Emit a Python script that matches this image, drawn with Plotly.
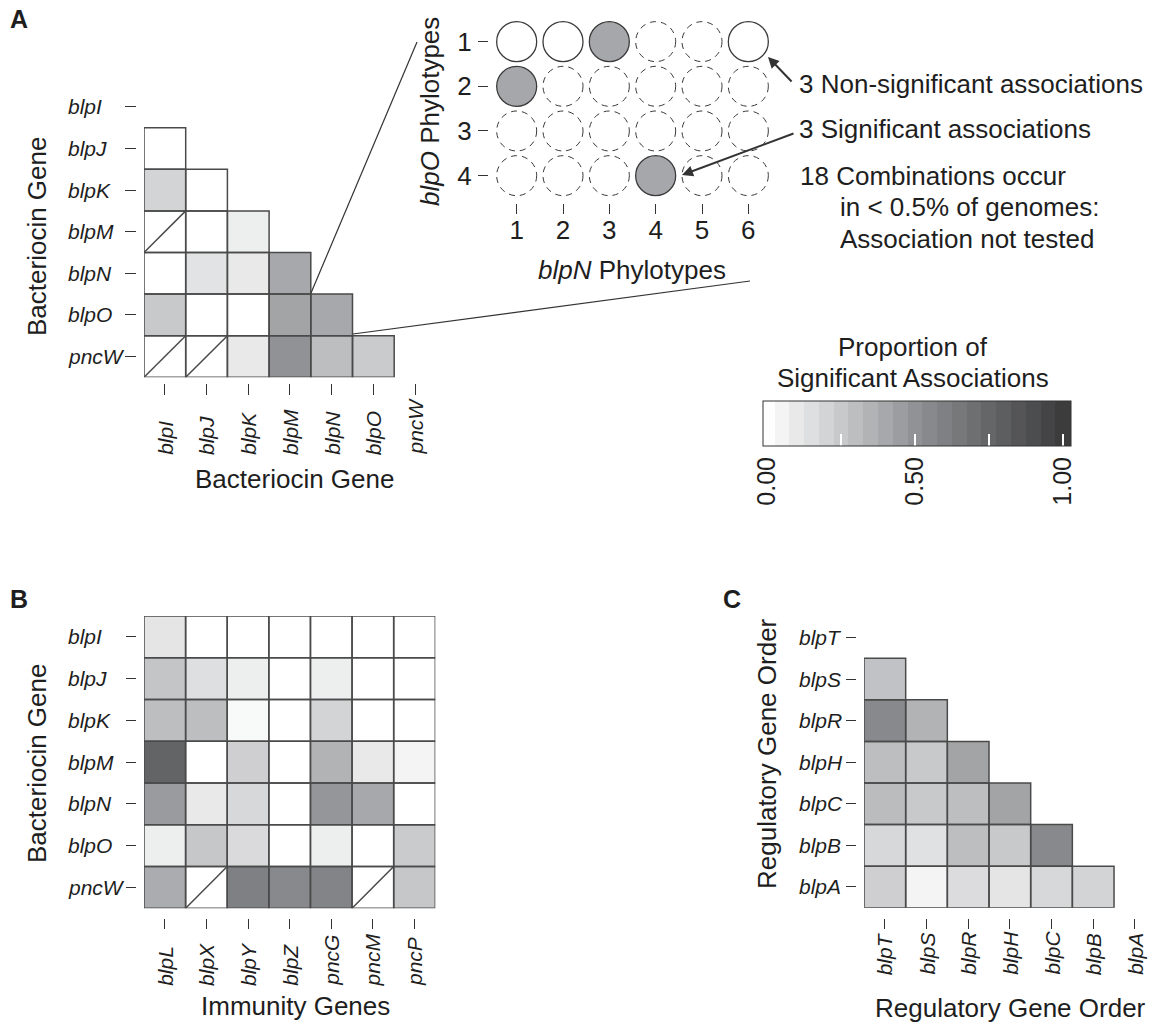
import plotly.graph_objects as go

W, H = 1158, 1024
def px(x): return x / W
def py(y): return 1 - y / H

FONT = "Liberation Sans, Arial, Helvetica, sans-serif"
TXT = "#1e1e1e"
EDGE = "#4a4a4a"

# ---------------- data ----------------
bact_genes = ["blpI", "blpJ", "blpK", "blpM", "blpN", "blpO", "pncW"]
# Panel A: lower triangle (row gene vs column gene), None = not shown / untested
A_values = [
    [None, None, None, None, None, None, None],
    [0.00, None, None, None, None, None, None],
    [0.20, 0.00, None, None, None, None, None],
    [None, 0.00, 0.08, None, None, None, None],
    [0.00, 0.13, 0.10, 0.40, None, None, None],
    [0.25, 0.00, 0.00, 0.42, 0.40, None, None],
    [None, None, 0.10, 0.50, 0.30, 0.24, None],
]
A_untested = [("blpM", "blpI"), ("pncW", "blpI"), ("pncW", "blpJ")]

# Inset: blpO phylotypes (rows) x blpN phylotypes (cols)
inset_rows = [1, 2, 3, 4]
inset_cols = [1, 2, 3, 4, 5, 6]
# S = significant, N = non-significant, U = untested
inset_status = [
    ["N", "N", "S", "U", "U", "N"],
    ["S", "U", "U", "U", "U", "U"],
    ["U", "U", "U", "U", "U", "U"],
    ["U", "U", "U", "S", "U", "U"],
]

# Panel B
imm_genes = ["blpL", "blpX", "blpY", "blpZ", "pncG", "pncM", "pncP"]
B_values = [
    [0.12, 0.00, 0.00, 0.00, 0.00, 0.00, 0.00],
    [0.27, 0.15, 0.08, 0.00, 0.08, 0.00, 0.00],
    [0.30, 0.30, 0.03, 0.00, 0.20, 0.00, 0.00],
    [0.76, 0.00, 0.22, 0.00, 0.35, 0.10, 0.05],
    [0.46, 0.10, 0.18, 0.00, 0.48, 0.40, 0.00],
    [0.08, 0.26, 0.17, 0.00, 0.08, 0.00, 0.24],
    [0.38, None, 0.60, 0.55, 0.58, None, 0.26],
]
B_untested = [("pncW", "blpX"), ("pncW", "pncM")]

# Panel C
reg_genes = ["blpT", "blpS", "blpR", "blpH", "blpC", "blpB", "blpA"]
C_values = [
    [None, None, None, None, None, None, None],
    [0.28, None, None, None, None, None, None],
    [0.55, 0.35, None, None, None, None, None],
    [0.30, 0.25, 0.42, None, None, None, None],
    [0.31, 0.25, 0.30, 0.42, None, None, None],
    [0.18, 0.14, 0.30, 0.25, 0.55, None, None],
    [0.22, 0.05, 0.16, 0.12, 0.18, 0.20, None],
]
C_untested = []

cbar_ticks = [0, 0.25, 0.5, 0.75, 1.0]
cbar_ticktext = ["0.00", "", "0.50", "", "1.00"]

# ---------------- colours ----------------
CMIN, CMAX = -0.014, 1.028
grey_stops = [(0.0, "#ffffff"), (0.25, "#c8c9cb"), (0.5, "#919295"),
              (0.75, "#656668"), (1.0, "#3c3c3d")]

def hex2rgb(h):
    return tuple(int(h[i:i + 2], 16) for i in (1, 3, 5))

def grey_at(v):
    v = min(max(v, 0.0), 1.0)
    for (v0, c0), (v1, c1) in zip(grey_stops[:-1], grey_stops[1:]):
        if v0 <= v <= v1:
            t = (v - v0) / (v1 - v0)
            a, b = hex2rgb(c0), hex2rgb(c1)
            return "rgb(%d,%d,%d)" % tuple(round(a[k] + t * (b[k] - a[k])) for k in range(3))
    return grey_stops[-1][1]

def frac(v):
    return (v - CMIN) / (CMAX - CMIN)

# continuous scale for the cells
colorscale = [[0.0, "#ffffff"]]
for v, c in grey_stops:
    colorscale.append([frac(v), c])
colorscale.append([1.0, "#3c3c3d"])

# binned scale for the legend bar (as drawn in the reference)
bin_edges = [CMIN] + [0.025 + 0.05 * k for k in range(21)] + [CMAX]
bin_edges = sorted(set(min(max(e, CMIN), CMAX) for e in bin_edges))
binned = []
for e0, e1 in zip(bin_edges[:-1], bin_edges[1:]):
    col = grey_at((e0 + e1) / 2)
    binned.append([frac(e0), col])
    binned.append([frac(e1), col])

fig = go.Figure()

def add_heat(values, rows, cols, untested, xa, ya):
    n_r, n_c = len(rows), len(cols)
    fig.add_trace(go.Heatmap(
        z=values, x=list(range(n_c)), y=list(range(n_r)),
        coloraxis="coloraxis", xaxis=xa, yaxis=ya,
        hoverinfo="skip"))
    unt = {(rows.index(r), cols.index(c)) for r, c in untested}
    bx, by = [], []
    for i in range(n_r):
        for j in range(n_c):
            if values[i][j] is None and (i, j) not in unt:
                continue
            bx += [j - 0.5, j + 0.5, j + 0.5, j - 0.5, j - 0.5, None]
            by += [i - 0.5, i - 0.5, i + 0.5, i + 0.5, i - 0.5, None]
            if (i, j) in unt:
                bx += [j - 0.5, j + 0.5, None]
                by += [i + 0.5, i - 0.5, None]
    fig.add_trace(go.Scatter(x=bx, y=by, mode="lines", xaxis=xa, yaxis=ya,
                             line=dict(color=EDGE, width=1.5),
                             hoverinfo="skip", showlegend=False))

add_heat(A_values, bact_genes, bact_genes, A_untested, "x", "y")
add_heat(B_values, bact_genes, imm_genes, B_untested, "x3", "y3")
add_heat(C_values, reg_genes, reg_genes, C_untested, "x4", "y4")

# legend bar carrier (no visible points)
fig.add_trace(go.Scatter(x=[None, None], y=[None, None], mode="markers",
                         xaxis="x", yaxis="y", hoverinfo="skip", showlegend=False,
                         marker=dict(color=[CMIN, CMAX], coloraxis="coloraxis2")))

# inset circles: tested as markers, untested dashed shapes
for status, fill in [("N", "#ffffff"), ("S", "#a6a7aa")]:
    xs, ys = [], []
    for i, r in enumerate(inset_rows):
        for j, c in enumerate(inset_cols):
            if inset_status[i][j] == status:
                xs.append(c); ys.append(r)
    fig.add_trace(go.Scatter(x=xs, y=ys, mode="markers", xaxis="x2", yaxis="y2",
                             marker=dict(size=40, color=fill,
                                         line=dict(color="#3a3a3a", width=1.3)),
                             hoverinfo="skip", showlegend=False))
shapes = []
for i, r in enumerate(inset_rows):
    for j, c in enumerate(inset_cols):
        if inset_status[i][j] == "U":
            shapes.append(dict(type="circle", xref="x2", yref="y2",
                               xsizemode="pixel", ysizemode="pixel",
                               xanchor=c, yanchor=r, x0=-20, x1=20, y0=-20, y1=20,
                               line=dict(color="#3a3a3a", width=1, dash="6px,5px")))

# connecting lines from panel A to inset
shapes.append(dict(type="line", xref="paper", yref="paper",
                   x0=px(311), y0=py(293), x1=px(417), y1=py(42),
                   line=dict(color="#333333", width=1.2)))
shapes.append(dict(type="line", xref="paper", yref="paper",
                   x0=px(353), y0=py(334), x1=px(750), y1=py(281),
                   line=dict(color="#333333", width=1.2)))

tick_common = dict(showgrid=False, zeroline=False, showline=False,
                   ticks="outside", tickcolor="#333333", tickwidth=1.2,
                   anchor="free")

def heat_axes(xdom, ydom, xpos, ypos, ticklen=11):
    xa = dict(domain=[px(xdom[0]), px(xdom[1])], range=[-0.5, 6.5],
              position=py(xpos), tickvals=list(range(7)), ticklen=ticklen,
              showticklabels=False, **tick_common)
    ya = dict(domain=[py(ydom[1]), py(ydom[0])], range=[6.5, -0.5],
              position=px(ypos), tickvals=list(range(7)), ticklen=ticklen,
              showticklabels=False, **tick_common)
    return xa, ya

xa1, ya1 = heat_axes((144, 435.9), (86.1, 377.3), 383, 136)
xa3, ya3 = heat_axes((144, 435.3), (616, 908.3), 918, 136, ticklen=10)
xa4, ya4 = heat_axes((864, 1155.7), (616.7, 907.7), 918, 856, ticklen=10)

xa2 = dict(domain=[px(493.5), px(771.5)], range=[0.5, 6.5], position=py(203),
           tickvals=inset_cols, ticklen=10, showticklabels=True,
           ticklabelstandoff=-6,
           tickfont=dict(size=26, family=FONT, color=TXT), **tick_common)
ya2 = dict(domain=[py(198), py(19.3)], range=[4.5, 0.5], position=px(488),
           tickvals=inset_rows, ticklen=10, showticklabels=True,
           ticklabelstandoff=1,
           tickfont=dict(size=26, family=FONT, color=TXT), **tick_common)

ann = []
def text(x, y, s, size=26, xanchor="center", yanchor="middle", angle=0,
         xref="paper", yref="paper", bold=False):
    ann.append(dict(x=x, y=y, xref=xref, yref=yref, text=s, showarrow=False,
                    xanchor=xanchor, yanchor=yanchor, textangle=angle,
                    font=dict(size=size, family=FONT, color=TXT,
                              weight="bold" if bold else "normal")))

# tick label annotations
def tick_labels(rows, cols, ylab_x, xlab_bottom, xa, ya):
    for i, r in enumerate(rows):
        text(px(ylab_x), i, f"<i>{r}</i>", size=21, xanchor="left", yref=ya)
    for j, c in enumerate(cols):
        text(j, py(xlab_bottom), f"<i>{c}</i>", size=21, yanchor="bottom",
             angle=-90, xref=xa)

tick_labels(bact_genes, bact_genes, 66, 457, "x", "y")
tick_labels(bact_genes, imm_genes, 66, 988, "x3", "y3")
tick_labels(reg_genes, reg_genes, 797, 977, "x4", "y4")

# axis titles
text(px(294), py(479), "Bacteriocin Gene")
text(px(37), py(237), "Bacteriocin Gene", angle=-90)
text(px(295), py(1006), "Immunity Genes")
text(px(37), py(764), "Bacteriocin Gene", angle=-90)
text(px(1010), py(1008), "Regulatory Gene Order")
text(px(767), py(754), "Regulatory Gene Order", angle=-90)
text(px(632), py(270), "<i>blpN</i> Phylotypes")
text(px(430), py(112), "<i>blpO</i> Phylotypes", angle=-90)

# panel letters
text(px(8), py(19), "A", size=25, xanchor="left", bold=True)
text(px(8), py(599), "B", size=25, xanchor="left", bold=True)
text(px(721), py(599), "C", size=25, xanchor="left", bold=True)

# inset notes
text(px(797), py(84), "3 Non-significant associations", xanchor="left")
text(px(797), py(129), "3 Significant associations", xanchor="left")
text(px(798), py(176), "18 Combinations occur", xanchor="left")
text(px(838), py(207), "in &lt; 0.5% of genomes:", xanchor="left")
text(px(838), py(239), "Association not tested", xanchor="left")

# colorbar title
text(px(913), py(347), "Proportion of")
text(px(913), py(378), "Significant Associations")

# arrows
for hx, hy, tx, ty in [(768, 57, 793, 83), (682, 175, 795, 133)]:
    ann.append(dict(x=px(hx), y=py(hy), xref="paper", yref="paper", text="",
                    showarrow=True, ax=tx - hx, ay=ty - hy, arrowhead=2,
                    arrowsize=1.1, arrowwidth=2, arrowcolor="#333333",
                    standoff=0, startstandoff=0))

fig.update_layout(
    width=W, height=H, margin=dict(l=0, r=0, t=0, b=0),
    paper_bgcolor="white", plot_bgcolor="rgba(0,0,0,0)",
    font=dict(family=FONT, color=TXT),
    showlegend=False,
    xaxis=xa1, yaxis=ya1, xaxis2=xa2, yaxis2=ya2,
    xaxis3=xa3, yaxis3=ya3, xaxis4=xa4, yaxis4=ya4,
    coloraxis=dict(colorscale=colorscale, cmin=CMIN, cmax=CMAX, showscale=False),
    coloraxis2=dict(
        colorscale=binned, cmin=CMIN, cmax=CMAX, showscale=True,
        colorbar=dict(
            orientation="h", x=px(916.9), xanchor="center",
            y=py(401), yanchor="top", len=308, lenmode="pixels",
            thickness=45, thicknessmode="pixels", xpad=0, ypad=0,
            outlinewidth=1, outlinecolor="#333333",
            tickvals=cbar_ticks, ticktext=cbar_ticktext,
            ticks="inside", ticklen=12, tickcolor="white", tickwidth=1.5,
            tickangle=-90, tickfont=dict(size=25, family=FONT, color=TXT),
        ),
    ),
    shapes=shapes, annotations=ann,
)

fig.write_html("out.html")
